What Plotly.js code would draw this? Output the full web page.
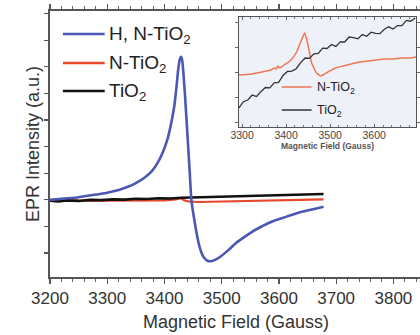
<!DOCTYPE html>
<html>
<head>
<meta charset="utf-8">
<script src="https://cdn.plot.ly/plotly-3.0.1.min.js"></script>
<style>
html,body{margin:0;padding:0;overflow:hidden;background:#fff;}
#chart{width:430px;height:335px;}
</style>
</head>
<body>
<div id="chart"></div>
<script>
// ---- Main panel data (Magnetic field in Gauss, EPR intensity a.u.) ----
const hnX = [3200,3225,3250,3278,3300,3320,3336,3350,3365,3378,3388,3397,3405,3411,3417,3421,3424,3427,3429,3431,3433,3436,3440,3444,3447,3451,3456,3460,3464,3469,3475,3483,3490,3500,3512,3525,3540,3553,3568,3583,3598,3612,3626,3640,3660,3678];
const hnY = [0.0,0.05,0.10,0.19,0.27,0.37,0.49,0.63,0.83,1.08,1.39,1.78,2.26,2.80,3.50,4.25,4.90,5.30,5.38,5.25,4.80,3.90,2.50,1.10,0.0,-0.60,-1.24,-1.65,-1.95,-2.17,-2.29,-2.30,-2.24,-2.10,-1.88,-1.62,-1.39,-1.20,-1.02,-0.86,-0.74,-0.64,-0.54,-0.45,-0.35,-0.26];

const nX = [3200,3250,3300,3350,3400,3420,3428,3436,3445,3460,3500,3550,3600,3650,3678];
const nY = [-0.04,-0.04,-0.03,-0.03,-0.02,0.02,0.06,-0.03,-0.07,-0.08,-0.06,-0.05,-0.03,-0.01,0.02];

const tX = [3200,3215,3230,3250,3270,3290,3310,3330,3350,3370,3390,3410,3430,3450,3470,3490,3510,3530,3550,3570,3590,3610,3630,3650,3665,3678];
const tY = [-0.03,-0.06,-0.02,-0.04,0.0,-0.01,0.02,0.01,0.04,0.03,0.06,0.05,0.08,0.09,0.11,0.10,0.13,0.14,0.15,0.15,0.17,0.18,0.17,0.20,0.19,0.22];

// ---- Inset data (arbitrary intensity units) ----
const inNX = [3293,3320,3345,3365,3374,3378,3381,3386,3395,3406,3415,3424,3433,3442,3446,3451,3458,3469,3478,3495,3512,3530,3548,3567,3587,3605,3625,3643,3661,3680,3695];
const inNY = [52,53,55,57,59,58,61,59,62,65,69,75,85,94,89,79,64,54,51,55,59,61,63,65,66,67,68,68,69,69,70];

const inTX = [3293,3303,3313,3323,3333,3343,3353,3363,3373,3383,3393,3403,3413,3423,3433,3443,3453,3463,3473,3483,3493,3503,3513,3523,3533,3543,3553,3563,3573,3583,3593,3603,3613,3623,3633,3643,3653,3663,3673,3683,3693];
const inTY = [19,25.3,27,31.9,30.5,35.6,39.5,39.1,44.1,44.7,51.6,55.5,55.9,58.3,64.4,69,68.6,73.2,73.7,78.9,78.5,82.6,80.6,85.1,85,90,89.4,88.2,92.4,90.7,94.8,93.6,93.4,97.7,100.2,98,101.4,101.4,106.6,105.8,109];

const inTicks = [3300,3400,3500,3600];
const inTickText = ['3300','3400','3500','3600'];

const BLUE = '#4a58b4', RED = '#e8482c', IRED = '#f07654', BLK = '#111111', IBLK = '#333333';
const FONT = 'Liberation Sans, Arial, sans-serif';

const traces = [
  {x: nX, y: nY, type:'scatter', mode:'lines', line:{color:RED, width:2.2}, xaxis:'x', yaxis:'y', showlegend:false},
  {x: tX, y: tY, type:'scatter', mode:'lines', line:{color:BLK, width:2.6}, xaxis:'x', yaxis:'y', showlegend:false},
  {x: hnX, y: hnY, type:'scatter', mode:'lines', line:{color:BLUE, width:2.6, shape:'spline', smoothing:0.4}, xaxis:'x', yaxis:'y', showlegend:false},
  {x: inNX, y: inNY, type:'scatter', mode:'lines', line:{color:IRED, width:1.5, shape:'spline', smoothing:0.4}, xaxis:'x2', yaxis:'y2', showlegend:false},
  {x: inTX, y: inTY, type:'scatter', mode:'lines', line:{color:IBLK, width:1.3}, xaxis:'x2', yaxis:'y2', showlegend:false}
];

// pixel helpers for legend placement (paper coords)
const L = 50, PW = 374, B = 277, PH = 266;
const px = v => (v - L) / PW;
const py = v => (B - v) / PH;

const legMain = [
  {c: BLUE, t: 'H, N-TiO<sub>2</sub>', y: 34},
  {c: RED, t: 'N-TiO<sub>2</sub>', y: 63},
  {c: BLK, t: 'TiO<sub>2</sub>', y: 91}
];
const legIn = [
  {c: IRED, t: 'N-TiO<sub>2</sub>', y: 87},
  {c: IBLK, t: 'TiO<sub>2</sub>', y: 110}
];

const shapes = [
  {type:'rect', xref:'x2 domain', yref:'y2 domain', x0:0, x1:1, y0:0, y1:1, fillcolor:'#eef1f8', line:{width:0}, layer:'below'}
];
const annotations = [];
legMain.forEach(e => {
  shapes.push({type:'line', xref:'paper', yref:'paper', x0:px(63), x1:px(105), y0:py(e.y), y1:py(e.y), line:{color:e.c, width:2.6}});
  annotations.push({xref:'paper', yref:'paper', x:px(107), y:py(e.y+1), xanchor:'left', yanchor:'middle', text:e.t, showarrow:false, font:{family:FONT, size:19, color:'#222'}});
});
legIn.forEach(e => {
  shapes.push({type:'line', xref:'paper', yref:'paper', x0:px(283), x1:px(313), y0:py(e.y), y1:py(e.y), line:{color:e.c, width:1.5}});
  annotations.push({xref:'paper', yref:'paper', x:px(316), y:py(e.y+1), xanchor:'left', yanchor:'middle', text:e.t, showarrow:false, font:{family:FONT, size:12.5, color:'#222'}});
});

const layout = {
  width: 430, height: 335,
  margin: {l: L, r: 430 - L - PW, t: 11, b: 335 - B},
  paper_bgcolor: '#ffffff', plot_bgcolor: 'rgba(0,0,0,0)',
  font: {family: FONT, color: '#333'},
  showlegend: false,
  xaxis: {
    range: [3200, 3850], dtick: 100, tick0: 3200,
    ticks: 'outside', ticklen: 5, tickwidth: 1.2, tickcolor: '#555',
    minor: {dtick: 20, ticks: 'outside', ticklen: 3, tickcolor: '#666', tickwidth: 1},
    showline: true, linecolor: '#555', linewidth: 1.6, mirror: 'ticks',
    showgrid: false, zeroline: false,
    tickfont: {size: 17, color: '#333', family: FONT},
    title: {text: 'Magnetic Field (Gauss)', font: {size: 18, color: '#333', family: FONT}, standoff: 8}
  },
  yaxis: {
    range: [-2.9, 7.1], dtick: 1, tick0: 0,
    ticks: 'outside', ticklen: 4, tickwidth: 1.2, tickcolor: '#555',
    showticklabels: false, automargin: true,
    showline: true, linecolor: '#555', linewidth: 1.6, mirror: true,
    showgrid: false, zeroline: false,
    title: {text: 'EPR Intensity (a.u.)', font: {size: 18, color: '#333', family: FONT}, standoff: 0}
  },
  xaxis2: {
    domain: [px(240), px(418)], anchor: 'y2',
    range: [3293, 3695],
    tickvals: inTicks, ticktext: inTickText,
    ticks: 'inside', ticklen: 3, tickwidth: 1, tickcolor: '#666',
    minor: {dtick: 20, ticks: 'inside', ticklen: 2, tickcolor: '#777'},
    showline: true, linecolor: '#555', linewidth: 1.2, mirror: 'ticks',
    showgrid: false, zeroline: false,
    ticklabelstandoff: -2,
    tickfont: {size: 10.5, color: '#444', family: FONT},
    title: {text: '<b>Magnetic Field (Gauss)</b>', font: {size: 8.5, color: '#555', family: FONT}, standoff: 0}
  },
  yaxis2: {
    domain: [py(127), py(17)], anchor: 'x2',
    range: [0, 110], dtick: 25, tick0: 5,
    ticks: 'outside', ticklen: 3, tickwidth: 1, tickcolor: '#666',
    showticklabels: false,
    showline: true, linecolor: '#555', linewidth: 1.2, mirror: 'ticks',
    showgrid: false, zeroline: false
  },
  shapes: shapes,
  annotations: annotations
};

Plotly.newPlot('chart', traces, layout, {staticPlot: true, displayModeBar: false});
</script>
</body>
</html>
